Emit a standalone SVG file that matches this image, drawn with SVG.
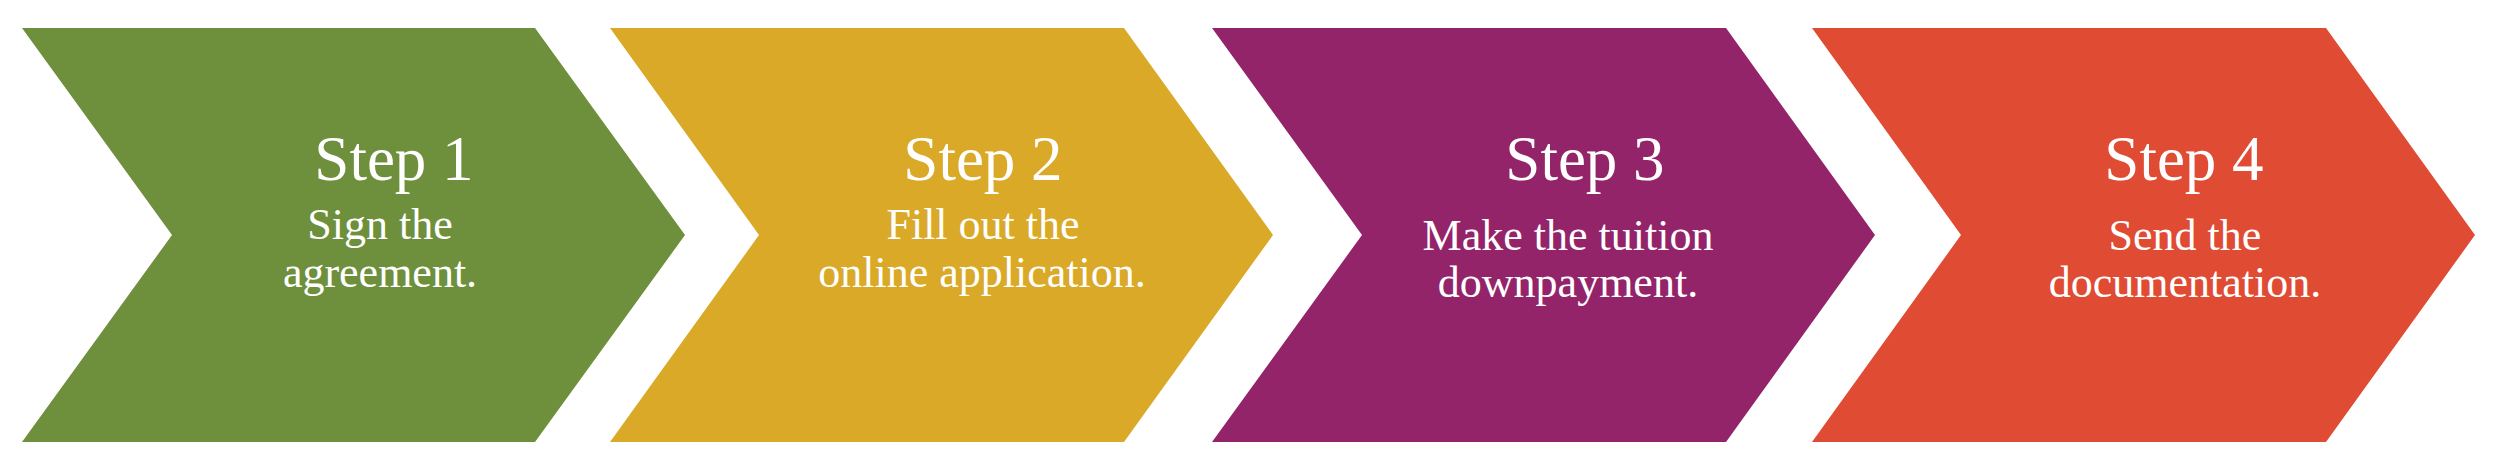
<svg xmlns="http://www.w3.org/2000/svg" width="2500" height="471" viewBox="0 0 2500 471">
<style>
.title{font-family:"Liberation Serif","Times New Roman",serif;font-size:63px;fill:#ffffff;text-anchor:middle}
.desc{font-family:"Liberation Serif","Times New Roman",serif;font-size:44px;fill:#ffffff;text-anchor:middle}
</style>
<rect width="2500" height="471" fill="#ffffff"/>
<g id="step1">
<polygon points="22,28 535,28 685,235 535,442 22,442 172,235" fill="#6E8F3B"/>
<text class="title" x="394" y="180">Step 1</text>
<text class="desc" x="380" y="239">Sign the</text>
<text class="desc" x="380" y="287">agreement.</text>
</g>
<g id="step2">
<polygon points="610,28 1124,28 1273,235 1124,442 610,442 759,235" fill="#D9A927"/>
<text class="title" x="983" y="180">Step 2</text>
<text class="desc" x="983" y="239">Fill out the</text>
<text class="desc" x="982" y="287">online application.</text>
</g>
<g id="step3">
<polygon points="1212,28 1726,28 1875,235 1726,442 1212,442 1362,235" fill="#93246A"/>
<text class="title" x="1585" y="180">Step 3</text>
<text class="desc" x="1568" y="250">Make the tuition</text>
<text class="desc" x="1568" y="297">downpayment.</text>
</g>
<g id="step4">
<polygon points="1812,28 2326,28 2475,235 2326,442 1812,442 1961,235" fill="#E04B33"/>
<text class="title" x="2184" y="180">Step 4</text>
<text class="desc" x="2185" y="250">Send the</text>
<text class="desc" x="2185" y="297">documentation.</text>
</g>
<g id="connectors"></g>
</svg>
